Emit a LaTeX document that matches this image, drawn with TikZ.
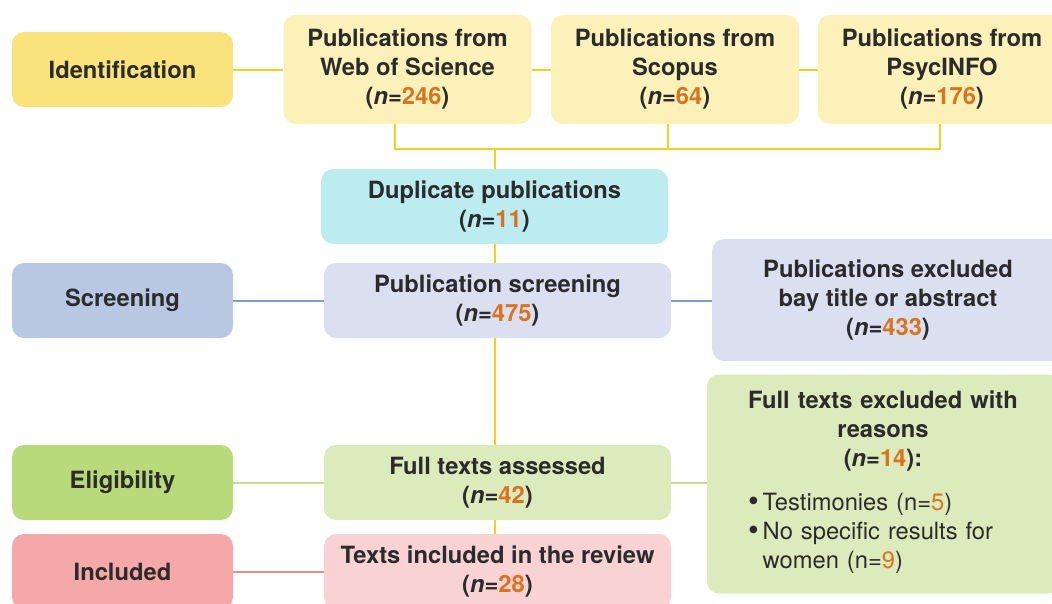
\documentclass[tikz,border=0pt]{standalone}
\usepackage{fontspec}
\setmainfont{TeX Gyre Heros}
\usepackage{xcolor}

\definecolor{idfill}{HTML}{FAE37C}
\definecolor{srcfill}{HTML}{FDF1BA}
\definecolor{dupfill}{HTML}{BDECF0}
\definecolor{scrfill}{HTML}{B8C8E3}
\definecolor{scrlight}{HTML}{DAE0EF}
\definecolor{elifill}{HTML}{B9DA7A}
\definecolor{elilight}{HTML}{DBEBBC}
\definecolor{incfill}{HTML}{F5A8A8}
\definecolor{inclight}{HTML}{F9D3D3}
\definecolor{ylw}{HTML}{F5CF1E}
\definecolor{blu}{HTML}{7D9DCF}
\definecolor{grn}{HTML}{C2DE94}
\definecolor{pnk}{HTML}{E9907D}
\definecolor{num}{HTML}{D9731F}
\definecolor{ink}{HTML}{2B2B2B}

% count in brackets, number in orange
\newcommand{\nval}[1]{(\textit{n}=\textcolor{num}{#1})}
% bigger list bullet
\newcommand{\bigbul}{\raisebox{-0.8pt}{\fontsize{23pt}{23pt}\selectfont\textbullet}}

\begin{document}
\begin{tikzpicture}[x=0.75pt,y=0.75pt,yscale=-1,xscale=1,
  box/.style={rounded corners=9pt, inner sep=0pt, align=center, text=ink,
    font=\fontsize{17.8pt}{21.75pt}\selectfont\bfseries},
  stage/.style={box, minimum width=165.75pt, minimum height=56.25pt},
  source/.style={box, fill=srcfill, minimum width=186pt, minimum height=81.75pt},
  mid/.style={box, minimum width=260.25pt, minimum height=56.25pt},
  side/.style={box, minimum width=264pt},
  yconn/.style={draw=ylw, line width=1.5pt},
  bconn/.style={draw=blu, line width=1.5pt},
  gconn/.style={draw=grn, line width=1.5pt},
  pconn/.style={draw=pnk, line width=1.5pt}]
\clip (0,0) rectangle (1052,603);

% Stage labels
\node [stage, fill=idfill] (ident) at (122.5,69.5) {Identification};
\node [stage, fill=scrfill] (scrn) at (122.5,300.5) {Screening};
\node [stage, fill=elifill] (elig) at (122.5,482.5) {Eligibility};
\node [stage, fill=incfill] (incl) at (122.5,571.5) {Included};

% Sources
\node [source] (wos) at (407.5,69.5) {Publications from\\Web of Science\\\nval{246}};
\node [source] (scopus) at (675,69.5) {Publications from\\Scopus\\\nval{64}};
\node [source] (psyc) at (942,69.5) {Publications from\\PsycINFO\\\nval{176}};

% Main column
\node [mid, fill=dupfill] (dup) at (494.5,206.5) {Duplicate publications\\\nval{11}};
\node [mid, fill=scrlight] (pubscr) at (497.5,300.5) {Publication screening\\\nval{475}};
\node [mid, fill=elilight] (fulltxt) at (497.5,482.5) {Full texts assessed\\\nval{42}};
\node [mid, fill=inclight] (txtincl) at (497.5,571.5) {Texts included in the review\\\nval{28}};

% Exclusions
\node [side, fill=scrlight, minimum height=91.5pt] (pubexcl) at (888,300)
  {Publications excluded\\bay title or abstract\\\nval{433}};
\node [side, fill=elilight, minimum height=164.25pt, text width=210pt] (fullexcl) at (883,484)
  {Full texts excluded with\\reasons\\\nval{14}:\par\vspace{11pt}%
   \makebox[210pt][l]{\hspace*{3.75pt}\mdseries
   \begin{tabular}[t]{@{}l@{\hspace{3pt}}l@{}}
   \bigbul & Testimonies (n=\textcolor{num}{5})\\
   \bigbul & No specific results for\\
           & women (n=\textcolor{num}{9})
   \end{tabular}}};

% Identification row and bracket
\draw [yconn] (ident) -- (wos.west |- ident);
\draw [yconn] (wos.east |- ident) -- (scopus.west |- ident);
\draw [yconn] (scopus.east |- ident) -- (psyc.west |- ident);
\draw [yconn] ([xshift=-9.75pt]wos.south) -- ++(0,25) -| ([xshift=-1.5pt]psyc.south);
\draw [yconn] ([xshift=-5.25pt]scopus.south) -- ++(0,25);
\draw [yconn] (dup.north) -- ++(0,-20.5);

% Trunk
\draw [yconn] (dup.south) -- (dup.south |- pubscr.north);
\draw [yconn] (dup.south |- pubscr.south) -- (dup.south |- fulltxt.north);
\draw [yconn] (dup.south |- fulltxt.south) -- (dup.south |- txtincl.north);

% Stage links
\draw [bconn] (scrn) -- (pubscr);
\draw [bconn] (pubscr.east) -- (pubexcl.west |- pubscr.east);
\draw [gconn] (elig) -- (fulltxt);
\draw [gconn] (fulltxt) -- (fullexcl.west |- fulltxt);
\draw [pconn] (incl) -- (txtincl);

\end{tikzpicture}
\end{document}
